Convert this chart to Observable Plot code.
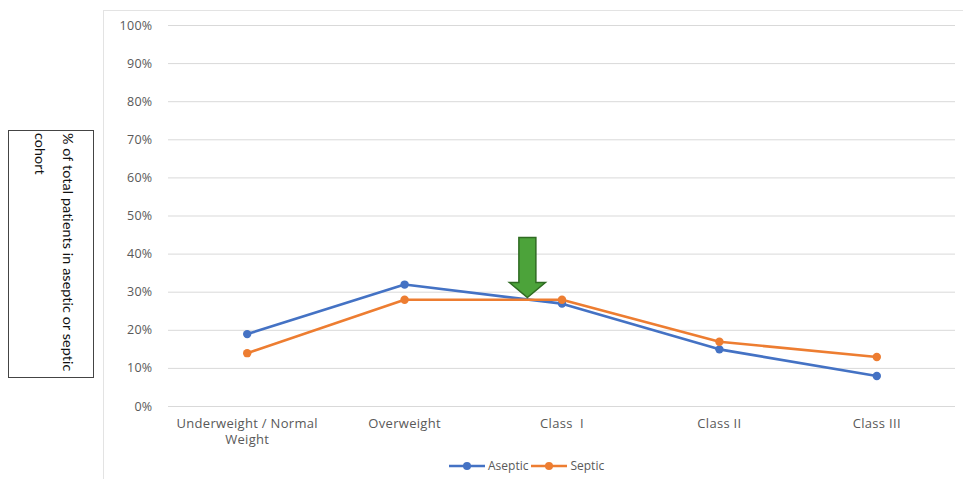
<!DOCTYPE html>
<html>
<head>
<meta charset="utf-8">
<script src="https://cdn.jsdelivr.net/npm/d3@7"></script>
<script src="https://cdn.jsdelivr.net/npm/@observablehq/plot@0.6"></script>
<style>
  html, body { margin: 0; padding: 0; background: #fff; }
  #wrap { position: relative; width: 963px; height: 479px; overflow: hidden; font-family: "Open Sans", Lato, sans-serif; }
  #frame { position: absolute; left: 103px; top: 10px; width: 900px; height: 500px; border-left: 1px solid #e3e3e3; border-top: 1px solid #e3e3e3; }
  #ylab { position: absolute; left: 8px; top: 130px; width: 86px; height: 248px; border: 1px solid #444; box-sizing: border-box; }
  #ylab span { position: absolute; right: 11px; top: 2px; writing-mode: vertical-rl; font-family: Lato, sans-serif; font-size: 14.3px; line-height: 28px; color: #111; letter-spacing: 0.1px; }
  #legend { position: absolute; top: 457px; left: 449px; font-size: 12px; color: #595959; display: flex; align-items: center; }
  #legend .item { display: flex; align-items: center; margin-right: 3px; }
  #legend svg { margin-right: 3px; }
  #chart { position: absolute; left: 0; top: 0; }
</style>
</head>
<body>
<div id="wrap">
  <div id="frame"></div>
  <div id="chart"></div>
  <div id="ylab"><span>% of total patients in aseptic or septic cohort</span></div>
  <div id="legend"></div>
</div>
<script>
const categories = ["Underweight / Normal\nWeight", "Overweight", "Class  I", "Class II", "Class III"];
const aseptic = [19, 32, 27, 15, 8];
const septic = [14, 28, 28, 17, 13];
const seriesNames = ["Aseptic", "Septic"];
const seriesColors = ["#4472C4", "#ED7D31"];
const yTicks = [0, 10, 20, 30, 40, 50, 60, 70, 80, 90, 100];
// annotation arrow: category index position and value its tip points to
const arrowX = [1.78];
const arrowY = [28.6];

const rows = [];
categories.forEach((c, i) => {
  rows.push({i, cat: c, series: seriesNames[0], v: aseptic[i]});
  rows.push({i, cat: c, series: seriesNames[1], v: septic[i]});
});
const arrowData = arrowX.map((x, k) => ({x, y: arrowY[k]}));

const blockArrow = {
  draw(context, l, r) {
    const hw = 8.5, HW = 18, h = 15;
    context.moveTo(-hw, 0);
    context.lineTo(hw, 0);
    context.lineTo(hw, -l + h);
    context.lineTo(HW, -l + h);
    context.lineTo(0, -l);
    context.lineTo(-HW, -l + h);
    context.lineTo(-hw, -l + h);
    context.closePath();
  }
};

const plot = Plot.plot({
  width: 963,
  height: 479,
  marginLeft: 168,
  marginRight: 8,
  marginTop: 25,
  marginBottom: 73,
  style: {fontFamily: "'Open Sans', Lato, sans-serif", fontSize: "13px", color: "#595959", background: "transparent", letterSpacing: "0.3px"},
  x: {domain: [-0.5, categories.length - 0.5]},
  y: {domain: [0, 100]},
  color: {domain: seriesNames, range: seriesColors},
  marks: [
    Plot.gridY(yTicks, {stroke: "#d9d9d9", strokeOpacity: 1, strokeWidth: 1}),
    Plot.axisY(yTicks, {tickSize: 0, tickPadding: 16, tickFormat: d => d + "%", label: null, fill: "#595959", fontSize: 12.5}),
    Plot.axisX(d3.range(categories.length), {tickSize: 0, tickPadding: 10, tickFormat: i => categories[i], label: null, fill: "#595959", fontSize: 13, lineHeight: 1.25}),
    Plot.line(rows, {x: "i", y: "v", z: "series", stroke: "series", strokeWidth: 2.6}),
    Plot.dot(rows, {x: "i", y: "v", fill: "series", r: 4.2}),
    Plot.vector(arrowData, {x: "x", y: "y", length: 60, rotate: 180, anchor: "end", shape: blockArrow, fill: "#4CA33A", stroke: "#2F6B22", strokeWidth: 1.5, strokeLinejoin: "miter"})
  ]
});
document.getElementById("chart").appendChild(plot);

const legend = document.getElementById("legend");
seriesNames.forEach((name, k) => {
  const item = document.createElement("div");
  item.className = "item";
  item.innerHTML = `<svg width="36" height="10"><line x1="0" y1="5" x2="36" y2="5" stroke="${seriesColors[k]}" stroke-width="2.6"/><circle cx="18" cy="5" r="4" fill="${seriesColors[k]}"/></svg><span>${name}</span>`;
  legend.appendChild(item);
});
</script>
</body>
</html>
